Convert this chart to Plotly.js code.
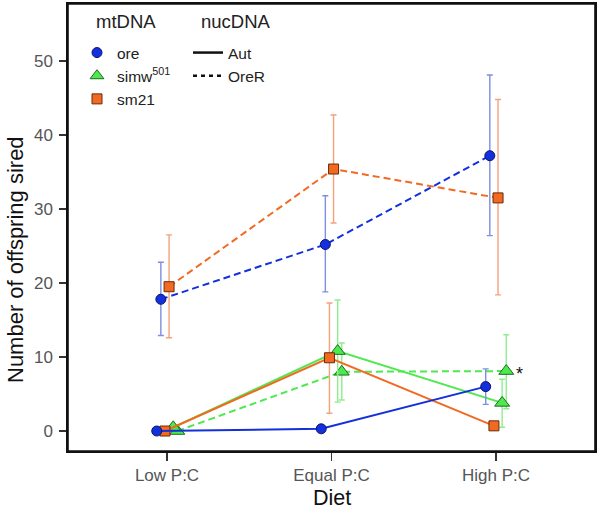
<!DOCTYPE html>
<html>
<head>
<meta charset="utf-8">
<script src="https://cdn.plot.ly/plotly-3.0.1.min.js"></script>
<style>
  html, body { margin: 0; padding: 0; background: #fff; }
  #chart { width: 600px; height: 510px; }
</style>
</head>
<body>
<div id="chart"></div>
<script>
/* =========================
   DATA
========================= */
const diets = ["Low P:C", "Equal P:C", "High P:C"];

// ore mtDNA
const oreAut = [0, 0.3, 6.0];
const oreAutLow = [0, 0.3, 3.6];
const oreAutHigh = [0, 0.3, 8.4];
const oreOreR = [17.8, 25.2, 37.2];
const oreOreRLow = [12.9, 18.8, 26.4];
const oreOreRHigh = [22.8, 31.8, 48.1];

// sm21 mtDNA
const smAut = [0, 9.9, 0.7];
const smAutLow = [0, 2.4, 0.7];
const smAutHigh = [0, 17.3, 0.7];
const smOreR = [19.5, 35.4, 31.5];
const smOreRLow = [12.6, 28.1, 18.4];
const smOreRHigh = [26.5, 42.7, 44.8];

// simw501 mtDNA
const simAut = [0.5, 10.8, 3.8];
const simAutLow = [0.5, 3.9, 0.5];
const simAutHigh = [0.5, 17.7, 7.0];
const simOreR = [0, 8.0, 8.1];
const simOreRLow = [0, 4.2, 3.0];
const simOreRHigh = [0, 11.9, 13.0];

const yTicks = [0, 10, 20, 30, 40, 50];

/* =========================
   STYLE
========================= */
const BLUE = "#1330dc", BLUE_EDGE = "#0a1470", BLUE_ERR = "#7f8ee0";
const ORANGE = "#f26a22", ORANGE_EDGE = "#6a2a08", ORANGE_ERR = "#f4a27a";
const GREEN = "#4ee94e", GREEN_EDGE = "#1d6b1d", GREEN_ERR = "#8eee8e";
const FONT = "Liberation Sans, Arial, Helvetica, sans-serif";
const DASH = "7px,4px";

const idx = diets.map((d, i) => i + 1);

function series(y, lo, hi, offset, color, edge, errColor, symbol, size, dash) {
  return {
    x: idx.map(v => v + offset),
    y: y,
    type: "scatter",
    mode: "lines+markers",
    showlegend: false,
    line: { color: color, width: 2, dash: dash },
    marker: { color: color, size: size, symbol: symbol, line: { color: edge, width: 1 } },
    error_y: {
      type: "data",
      symmetric: false,
      array: hi.map((h, i) => h - y[i]),
      arrayminus: lo.map((l, i) => y[i] - l),
      color: errColor,
      thickness: 1.4,
      width: 3
    },
    hoverinfo: "skip"
  };
}

const step = 0.025;
const traces = [
  series(oreOreR, oreOreRLow, oreOreRHigh, -1.5 * step, BLUE, BLUE_EDGE, BLUE_ERR, "circle", 10, DASH),
  series(smOreR, smOreRLow, smOreRHigh, 0.5 * step, ORANGE, ORANGE_EDGE, ORANGE_ERR, "square", 10, DASH),
  series(simOreR, simOreRLow, simOreRHigh, 2.5 * step, GREEN, GREEN_EDGE, GREEN_ERR, "triangle-up", 13, DASH),
  series(simAut, simAutLow, simAutHigh, 1.5 * step, GREEN, GREEN_EDGE, GREEN_ERR, "triangle-up", 13, "solid"),
  series(smAut, smAutLow, smAutHigh, -0.5 * step, ORANGE, ORANGE_EDGE, ORANGE_ERR, "square", 10, "solid"),
  series(oreAut, oreAutLow, oreAutHigh, -2.5 * step, BLUE, BLUE_EDGE, BLUE_ERR, "circle", 10, "solid")
];

/* =========================
   LEGEND ENTRIES
========================= */
const mtNames = ["ore", "simw<sup>501</sup>", "sm21"];
const mtStyles = [
  { color: BLUE, edge: BLUE_EDGE, symbol: "circle", size: 10 },
  { color: GREEN, edge: GREEN_EDGE, symbol: "triangle-up", size: 12 },
  { color: ORANGE, edge: ORANGE_EDGE, symbol: "square", size: 10 }
];
mtNames.forEach((n, i) => {
  const s = mtStyles[i];
  traces.push({
    x: [null], y: [null], type: "scatter", mode: "markers", name: n,
    legend: "legend",
    marker: { color: s.color, size: s.size, symbol: s.symbol, line: { color: s.edge, width: 1 } }
  });
});

const nucNames = ["Aut", "OreR"];
const nucDash = ["solid", "4px,4px"];
nucNames.forEach((n, i) => {
  traces.push({
    x: [null], y: [null], type: "scatter", mode: "lines", name: n,
    legend: "legend2",
    line: { color: "#111", width: 2.5, dash: nucDash[i] }
  });
});

/* =========================
   LAYOUT
========================= */
const M = { l: 68, r: 5, t: 4, b: 59 };
const plotH = 510 - M.t - M.b;
const plotW = 600 - M.l - M.r;
const px = v => (v - M.l) / plotW;       // page x -> paper x
const py = v => 1 - (v - M.t) / plotH;   // page y -> paper y

const axisBase = {
  ticks: "outside",
  tickwidth: 1.5,
  tickcolor: "#333",
  showgrid: false,
  zeroline: false,
  showline: true,
  mirror: true,
  linecolor: "#111",
  linewidth: 1.6,
  tickfont: { size: 17, color: "#555", family: FONT }
};

const layout = {
  width: 600,
  height: 510,
  paper_bgcolor: "#fff",
  plot_bgcolor: "#fff",
  font: { family: FONT, color: "#222" },
  margin: M,
  xaxis: {
    ...axisBase,
    range: [0.398, 3.602],
    tickvals: idx,
    ticktext: diets,
    ticklen: 8
  },
  yaxis: {
    ...axisBase,
    range: [-2.7, 57.7],
    tickvals: yTicks,
    ticklen: 7,
    ticklabelstandoff: 3
  },
  legend: {
    x: px(77), y: py(36), xanchor: "left", yanchor: "top",
    bgcolor: "rgba(0,0,0,0)",
    font: { size: 15.5, color: "#222", family: FONT },
    tracegroupgap: 0
  },
  legend2: {
    x: px(188), y: py(36), xanchor: "left", yanchor: "top",
    bgcolor: "rgba(0,0,0,0)",
    font: { size: 15.5, color: "#222", family: FONT },
    tracegroupgap: 0
  },
  shapes: [{
    type: "rect", xref: "paper", yref: "paper", layer: "above",
    x0: 0, x1: 1, y0: 0, y1: 1,
    fillcolor: "rgba(0,0,0,0)",
    line: { color: "#111", width: 1.6 }
  }],
  annotations: [
    { text: "mtDNA", xref: "paper", yref: "paper", x: px(94), y: py(21),
      xanchor: "left", yanchor: "middle", showarrow: false, font: { size: 18.5, color: "#222" } },
    { text: "nucDNA", xref: "paper", yref: "paper", x: px(199), y: py(21),
      xanchor: "left", yanchor: "middle", showarrow: false, font: { size: 18.5, color: "#222" } },
    { text: "Diet", xref: "paper", yref: "paper", x: px(332), y: py(498),
      xanchor: "center", yanchor: "middle", showarrow: false, font: { size: 21.5, color: "#111" } },
    { text: "Number of offspring sired", xref: "paper", yref: "paper", x: px(15), y: py(260),
      xanchor: "center", yanchor: "middle", textangle: -90, showarrow: false,
      font: { size: 22, color: "#111" } },
    { text: "*", x: 3 + 2.5 * step, y: simOreR[2], xref: "x", yref: "y", xshift: 13, yshift: -3,
      showarrow: false, font: { size: 18, color: "#111" } }
  ]
};

Plotly.newPlot("chart", traces, layout, { displayModeBar: false, staticPlot: true });
</script>
</body>
</html>
